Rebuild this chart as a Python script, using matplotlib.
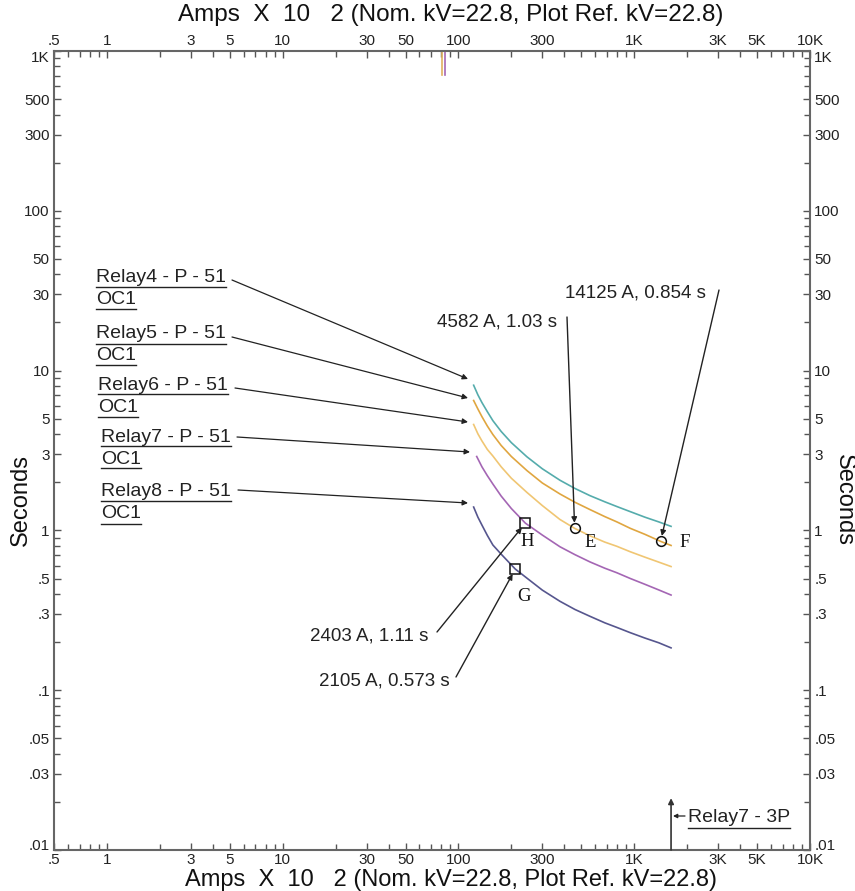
import numpy as np
import matplotlib.pyplot as plt
from matplotlib.lines import Line2D
from matplotlib.ticker import NullFormatter

# currents in plot units (Amps x 10), times in seconds
relay4_amps = [122, 129, 136, 146, 157, 175, 200, 245, 300, 378, 460, 560, 680, 797,
               950, 1150, 1380, 1620]
relay4_t = [8.1, 7.05, 6.31, 5.53, 4.86, 4.16, 3.54, 2.89, 2.43, 2.06, 1.83, 1.65,
            1.51, 1.41, 1.31, 1.21, 1.13, 1.06]

relay5_amps = [122, 129, 136, 146, 157, 175, 200, 245, 300, 378, 460, 560, 680, 797,
               950, 1150, 1412.5, 1620]
relay5_t = [6.5, 5.75, 5.15, 4.5, 3.98, 3.4, 2.9, 2.37, 1.98, 1.69, 1.50, 1.35,
            1.22, 1.13, 1.03, 0.945, 0.854, 0.805]

relay6_amps = [122, 129, 136, 146, 157, 175, 200, 245, 300, 378, 458.2, 560, 680, 797,
               950, 1150, 1380, 1620]
relay6_t = [4.6, 4.02, 3.63, 3.21, 2.92, 2.5, 2.12, 1.73, 1.43, 1.17, 1.03, 0.925,
            0.845, 0.795, 0.735, 0.68, 0.633, 0.594]

relay7_amps = [127, 136, 146, 157, 175, 200, 240.3, 300, 378, 460, 560, 680, 797,
               950, 1150, 1380, 1620]
relay7_t = [2.9, 2.5, 2.2, 1.95, 1.64, 1.37, 1.11, 0.935, 0.79, 0.705, 0.635, 0.58,
            0.543, 0.50, 0.46, 0.424, 0.394]

relay8_amps = [122, 129, 136, 146, 157, 175, 210.5, 245, 300, 378, 460, 560, 680, 797,
               950, 1150, 1380, 1620]
relay8_t = [1.40, 1.21, 1.08, 0.93, 0.81, 0.71, 0.573, 0.503, 0.423, 0.36, 0.32, 0.29,
            0.264, 0.247, 0.229, 0.212, 0.198, 0.184]

curve_names = ['Relay4 - P - 51', 'Relay5 - P - 51', 'Relay6 - P - 51',
               'Relay7 - P - 51', 'Relay8 - P - 51']
curve_colors = ['#55acac', '#e0a640', '#f0c673', '#a466b4', '#56568e']

# marked points
mark_amps = [458.2, 1412.5, 210.5, 240.3]
mark_t = [1.03, 0.854, 0.573, 1.11]
mark_letters = ['E', 'F', 'G', 'H']
mark_shapes = ['o', 'o', 's', 's']
mark_texts = ['4582 A, 1.03 s', '14125 A, 0.854 s', '2105 A, 0.573 s', '2403 A, 1.11 s']

# 3-phase fault line and pickup stubs
fault_amps = 1620
fault_t = [0.01, 0.0211]
stub_amps = [80.5, 83.8]
stub_t = [1000, 708]
stub_colors = ['#e0b060', '#a466b4']

x_ticks = [0.5, 1, 3, 5, 10, 30, 50, 100, 300, 1000, 3000, 5000, 10000]
x_labels = ['.5', '1', '3', '5', '10', '30', '50', '100', '300', '1K', '3K', '5K', '10K']
y_ticks = [0.01, 0.03, 0.05, 0.1, 0.3, 0.5, 1, 3, 5, 10, 30, 50, 100, 300, 500, 1000]
y_labels = ['.01', '.03', '.05', '.1', '.3', '.5', '1', '3', '5', '10', '30', '50',
            '100', '300', '500', '1K']

title = 'Amps  X  10   2 (Nom. kV=22.8, Plot Ref. kV=22.8)'

plt.rcParams['font.family'] = ['Liberation Sans', 'DejaVu Sans']

W, H = 855, 891
L, R, T, B = 54, 810, 51, 850


def P(px, py):
    # picture pixel -> axes fraction
    return ((px - L) / (R - L), (B - py) / (B - T))


fig = plt.figure(figsize=(8.55, 8.91), dpi=100)
ax = fig.add_axes([L / W, 1 - B / H, (R - L) / W, (B - T) / H])
ax.set_xscale('log')
ax.set_yscale('log')
ax.set_xlim(0.5, 10000)
ax.set_ylim(0.01, 1000)

ax.set_xticks(x_ticks, x_labels)
ax.set_yticks(y_ticks, y_labels)
minor_x = [m * 10.0 ** d for d in range(-1, 4) for m in range(2, 10)]
minor_x = [v for v in minor_x if 0.5 < v < 10000 and v not in x_ticks]
minor_y = [m * 10.0 ** d for d in range(-2, 3) for m in range(2, 10)]
minor_y = [v for v in minor_y if v not in y_ticks]
ax.set_xticks(minor_x, minor=True)
ax.set_yticks(minor_y, minor=True)
ax.xaxis.set_minor_formatter(NullFormatter())
ax.yaxis.set_minor_formatter(NullFormatter())
ax.tick_params(which='both', direction='in', top=True, right=True,
               labeltop=True, labelright=True, colors='#555555',
               labelcolor='#222222', labelsize=11, pad=3)
ax.tick_params(axis='x', which='both', pad=2)
ax.tick_params(which='major', length=5, width=1)
ax.tick_params(which='minor', length=4, width=1)
# end labels sit inside the frame height
yt = ax.yaxis.get_major_ticks()
for lab in (yt[0].label1, yt[0].label2):
    lab.set_va('baseline')
for lab in (yt[-1].label1, yt[-1].label2):
    lab.set_va('top')
for s in ax.spines.values():
    s.set_color('#666666')
    s.set_linewidth(1.5)

# curves
all_amps = [relay4_amps, relay5_amps, relay6_amps, relay7_amps, relay8_amps]
all_t = [relay4_t, relay5_t, relay6_t, relay7_t, relay8_t]
for a, t, c in zip(all_amps, all_t, curve_colors):
    ax.plot(a, t, color=c, lw=1.2, solid_joinstyle='round')

for a, c in zip(stub_amps, stub_colors):
    ax.plot([a, a], stub_t, color=c, lw=1.2)

# fault line
ax.annotate('', xy=(fault_amps, fault_t[1]), xytext=(fault_amps, fault_t[0]),
            arrowprops=dict(arrowstyle='-|>', color='#333333', lw=1.2,
                            mutation_scale=8, shrinkA=0, shrinkB=0))

arrow = dict(arrowstyle='-|>', color='#222222', lw=0.9, mutation_scale=8,
             shrinkA=0, shrinkB=0)

# relay labels
label_pos = [(96, 278), (96, 334), (98, 385), (101, 437), (101, 492)]
arrow_from = [(232, 280), (232, 337), (235, 388), (237, 437), (238, 490)]
arrow_to = [(468, 379), (468, 398), (468, 422), (470, 452), (468, 503)]
ul_texts = []
for name, (px, py), a0, a1 in zip(curve_names, label_pos, arrow_from, arrow_to):
    ul_texts.append(ax.text(*P(px, py), name, transform=ax.transAxes,
                            fontsize=14, va='center', ha='left', color='#222222'))
    ul_texts.append(ax.text(*P(px, py + 22), 'OC1', transform=ax.transAxes,
                            fontsize=14, va='center', ha='left', color='#222222'))
    ax.annotate('', xy=P(*a1), xycoords='axes fraction', xytext=P(*a0),
                textcoords='axes fraction', arrowprops=arrow)

# fault label
ul_texts.append(ax.text(*P(688, 818), 'Relay7 - 3P', transform=ax.transAxes,
                        fontsize=14, va='center', ha='left', color='#222222'))
ax.annotate('', xy=P(673, 816), xycoords='axes fraction', xytext=P(685, 816),
            textcoords='axes fraction',
            arrowprops=dict(arrowstyle='-|>', color='#222222', lw=0.9,
                            mutation_scale=6, shrinkA=0, shrinkB=0))

# marked points
letter_off = [(11.5, -10), (17, -1), (6.5, -19.5), (1.5, -13.5)]
note_text_pos = [(557, 322, 'right'), (565, 293, 'left'),
                 (450, 681, 'right'), (428, 636, 'right')]
note_line_from = [(567, 317), (719, 290), (456, 677), (437, 632)]
for a, t, lt, sh, off, tx, tp, lf in zip(mark_amps, mark_t, mark_letters, mark_shapes,
                                        letter_off, mark_texts, note_text_pos,
                                        note_line_from):
    ax.plot([a], [t], marker=sh, ms=7 if sh == 'o' else 6.5, mfc='none',
            mec='#111111', mew=1.1, ls='none')
    ax.annotate(lt, xy=(a, t), xytext=off, textcoords='offset points',
                family='Liberation Serif', fontsize=13.5, ha='center', va='center',
                color='#111111')
    ax.text(*P(tp[0], tp[1]), tx, transform=ax.transAxes, fontsize=13.5,
            ha=tp[2], va='center', color='#222222')
    ax.annotate('', xy=(a, t), xytext=P(*lf), textcoords='axes fraction',
                arrowprops=dict(arrowstyle='-|>', color='#222222', lw=1.0,
                                mutation_scale=8, shrinkA=0, shrinkB=4))

# axis titles
fig.text(451 / W, 1 - 15 / H, title, ha='center', va='center', fontsize=17.5,
         color='#111111')
fig.text(451 / W, 1 - 880 / H, title, ha='center', va='center', fontsize=17,
         color='#111111')
fig.text(21 / W, 1 - 500 / H, 'Seconds', rotation=90, ha='center', va='center',
         fontsize=17, color='#111111')
fig.text(844 / W, 1 - 500 / H, 'Seconds', rotation=270, ha='center', va='center',
         fontsize=17, color='#111111')

# underline the relay labels
fig.canvas.draw()
inv = fig.transFigure.inverted()
for txt in ul_texts:
    bb = txt.get_window_extent()
    (x0, y0), (x1, _) = inv.transform([(bb.x0, bb.y0 - 1), (bb.x1, bb.y0)])
    fig.add_artist(Line2D([x0, x1], [y0, y0], transform=fig.transFigure,
                          color='#222222', lw=1.0))

fig.savefig('out.png', dpi=100)
